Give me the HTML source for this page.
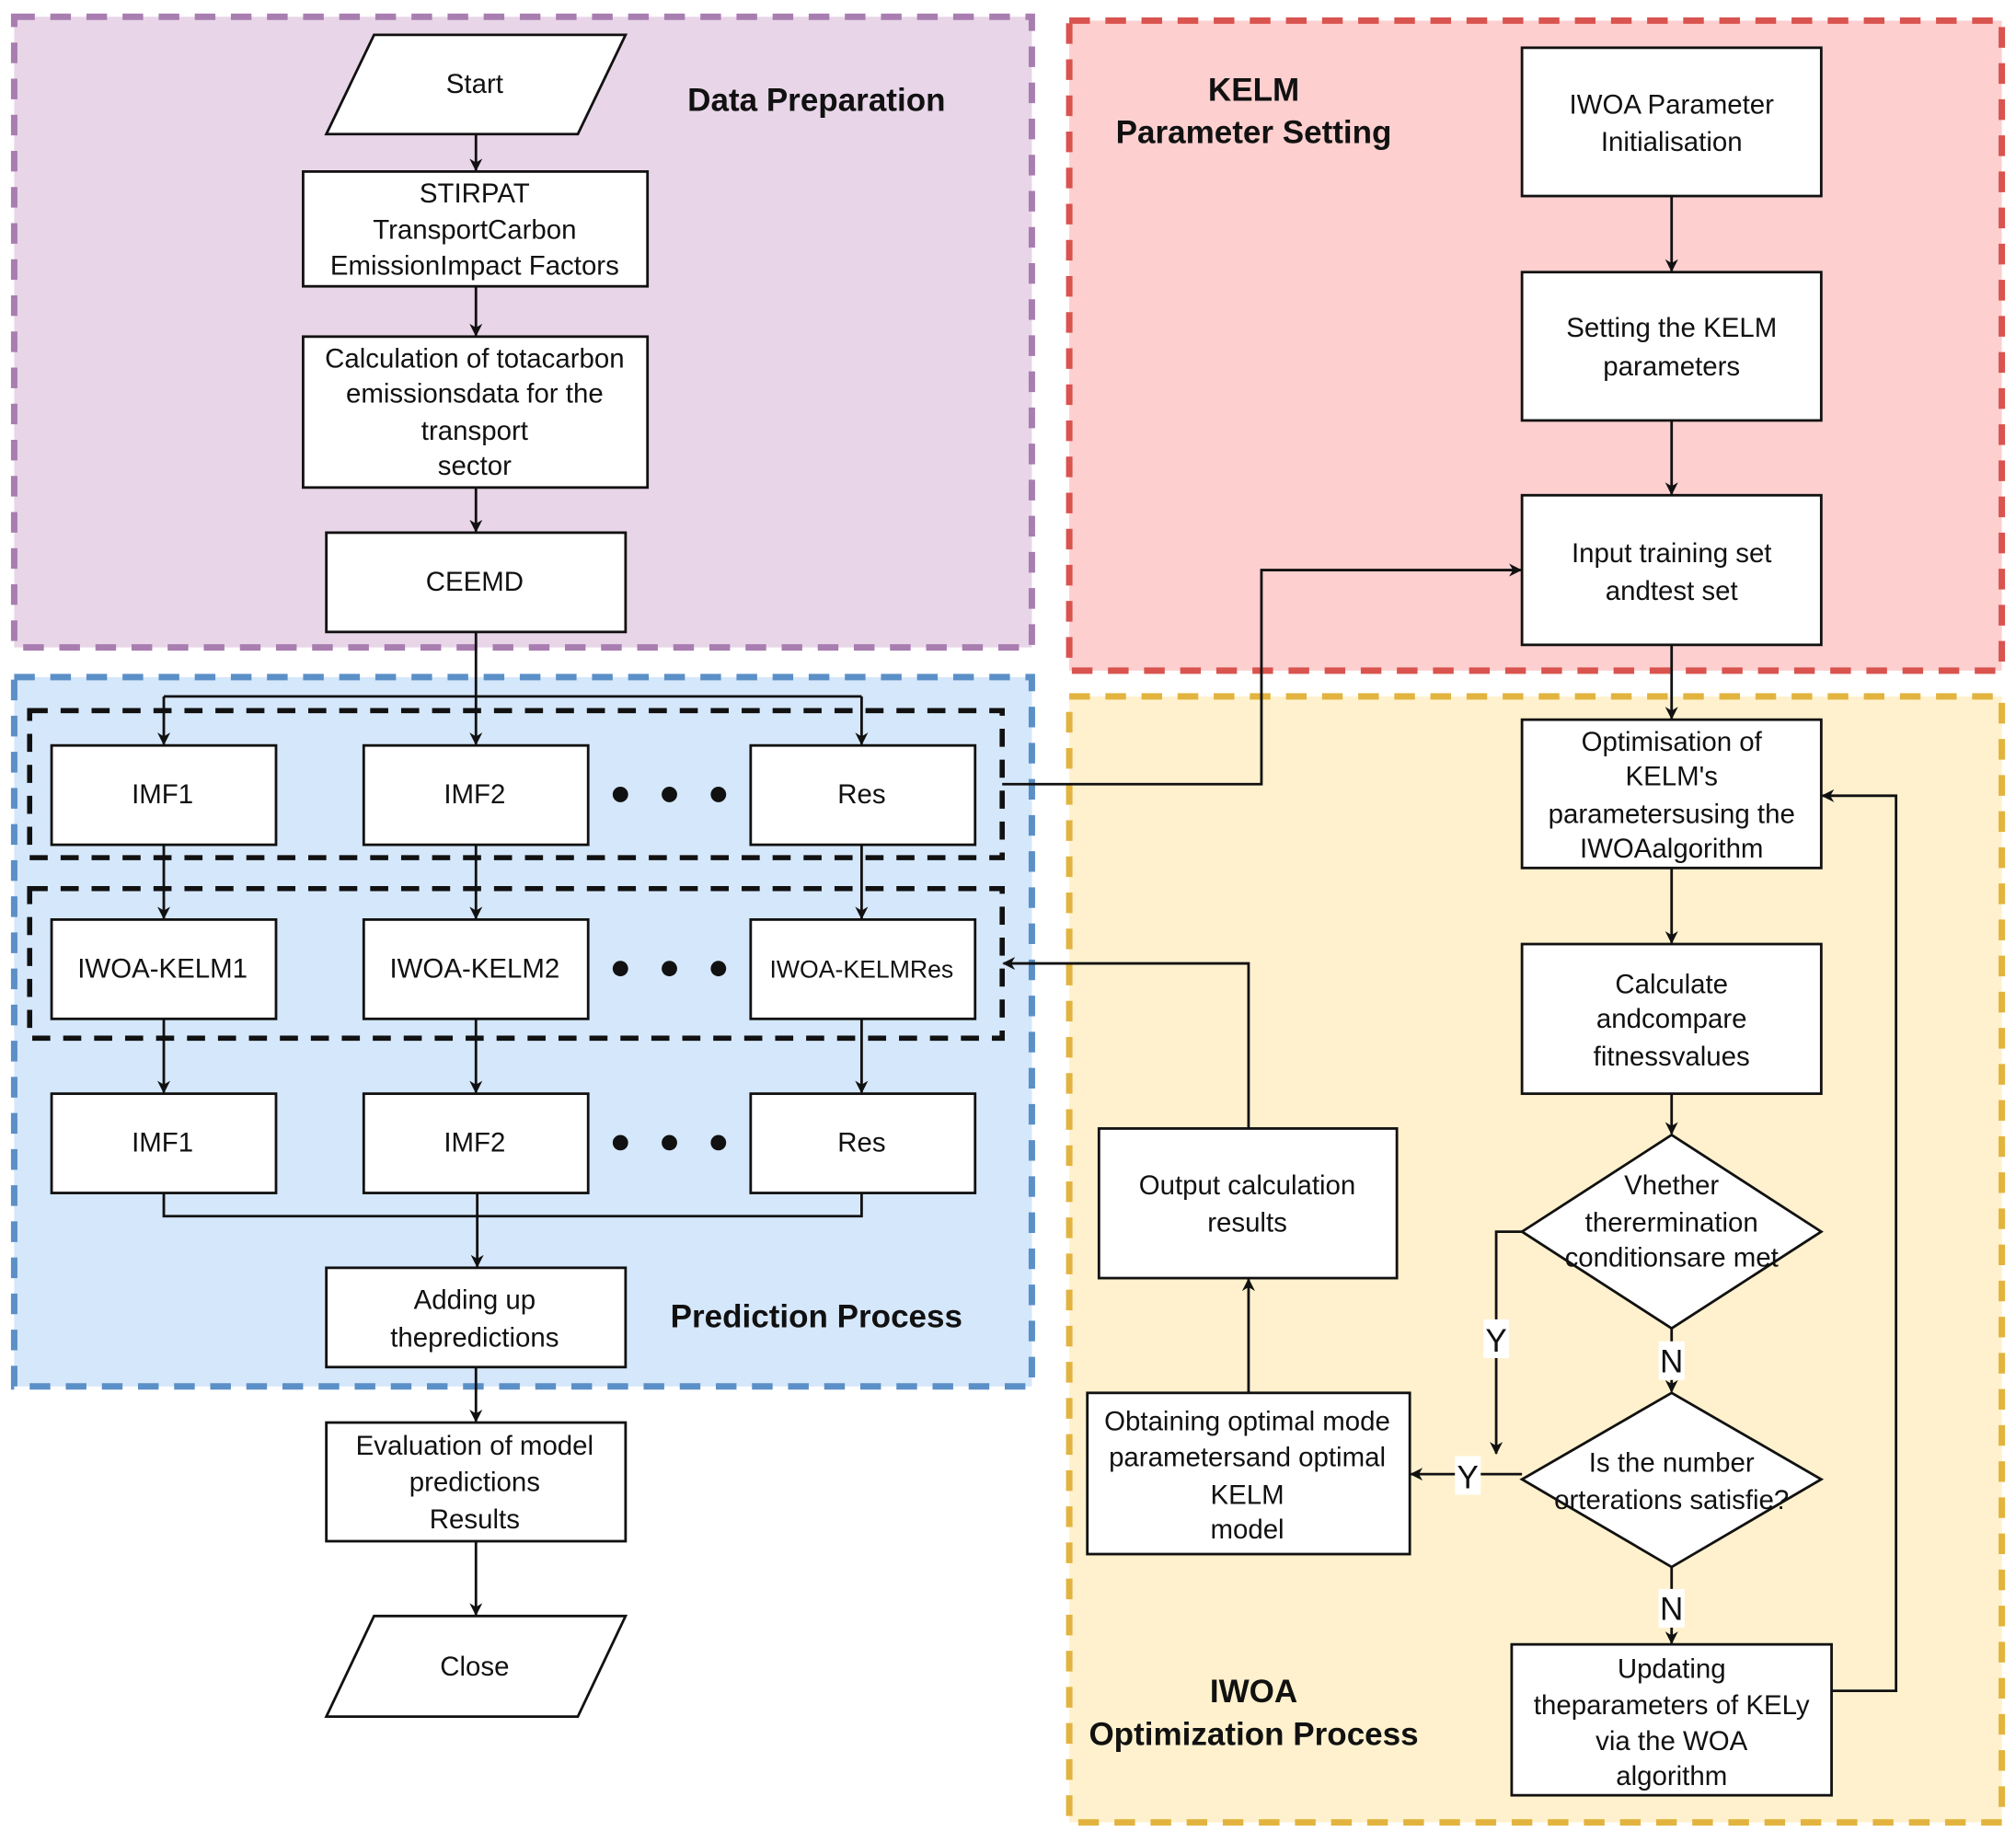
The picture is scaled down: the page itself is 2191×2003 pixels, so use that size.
<!DOCTYPE html>
<html><head><meta charset="utf-8"><style>
html,body{margin:0;padding:0;background:#fff;width:2191px;height:2003px;overflow:hidden}
svg{display:block}
text{font-family:"Liberation Sans",Arial,sans-serif;fill:#111}
.t{font-size:21px;text-anchor:middle}
.h{font-size:25px;font-weight:bold;text-anchor:middle}
.b{fill:#fff;stroke:#111;stroke-width:2}
.l{fill:none;stroke:#111;stroke-width:2}
</style></head><body>
<svg width="2191" height="2003" viewBox="0 0 1563 1429" preserveAspectRatio="none" xmlns="http://www.w3.org/2000/svg">
<defs><marker id="a" markerWidth="10" markerHeight="10" refX="9" refY="5" orient="auto" markerUnits="userSpaceOnUse"><path d="M0,0 L10,5 L0,10 L3,5 z" fill="#111"/></marker></defs>
<!-- regions -->
<rect x="11" y="13" width="789" height="489" fill="#e8d6e8" stroke="#a87db0" stroke-width="5" stroke-dasharray="16,12"/>
<rect x="829" y="16" width="723" height="504" fill="#fdcfcf" stroke="#d9534f" stroke-width="5" stroke-dasharray="16,12"/>
<rect x="11" y="525" width="789" height="550" fill="#d5e7fa" stroke="#5b8fc7" stroke-width="5" stroke-dasharray="16,12"/>
<rect x="829" y="540" width="723" height="873" fill="#fff1cd" stroke="#e2b43f" stroke-width="5" stroke-dasharray="16,12"/>
<rect x="23" y="551" width="754" height="114" fill="none" stroke="#111" stroke-width="4" stroke-dasharray="14,10"/>
<rect x="23" y="689" width="754" height="116" fill="none" stroke="#111" stroke-width="4" stroke-dasharray="14,10"/>
<text class="h" x="633" y="86">Data Preparation</text>
<text class="h" x="972" y="78">KELM</text>
<text class="h" x="972" y="111">Parameter Setting</text>
<text class="h" x="633" y="1029">Prediction Process</text>
<text class="h" x="972" y="1320">IWOA</text>
<text class="h" x="972" y="1353">Optimization Process</text>
<!-- connectors left -->
<path class="l" d="M369,104 V132" marker-end="url(#a)"/>
<path class="l" d="M369,222 V260" marker-end="url(#a)"/>
<path class="l" d="M369,378 V412" marker-end="url(#a)"/>
<path class="l" d="M369,490 V577" marker-end="url(#a)"/>
<path class="l" d="M127,540 H668"/>
<path class="l" d="M127,540 V577" marker-end="url(#a)"/>
<path class="l" d="M668,540 V577" marker-end="url(#a)"/>
<path class="l" d="M127,655 V712" marker-end="url(#a)"/>
<path class="l" d="M369,655 V712" marker-end="url(#a)"/>
<path class="l" d="M668,655 V712" marker-end="url(#a)"/>
<path class="l" d="M127,790 V847" marker-end="url(#a)"/>
<path class="l" d="M369,790 V847" marker-end="url(#a)"/>
<path class="l" d="M668,790 V847" marker-end="url(#a)"/>
<path class="l" d="M127,925 V943 H668 V925"/>
<path class="l" d="M370,925 V982" marker-end="url(#a)"/>
<path class="l" d="M369,1060 V1102" marker-end="url(#a)"/>
<path class="l" d="M369,1195 V1252" marker-end="url(#a)"/>
<path class="l" d="M777,608 H978 V442 H1179" marker-end="url(#a)"/>
<!-- connectors right -->
<path class="l" d="M1296,152 V210" marker-end="url(#a)"/>
<path class="l" d="M1296,326 V383" marker-end="url(#a)"/>
<path class="l" d="M1296,500 V557" marker-end="url(#a)"/>
<path class="l" d="M1296,673 V731" marker-end="url(#a)"/>
<path class="l" d="M1296,848 V879" marker-end="url(#a)"/>
<path class="l" d="M1296,1030 V1079" marker-end="url(#a)"/>
<path class="l" d="M1296,1215 V1274" marker-end="url(#a)"/>
<path class="l" d="M1420,1311 H1470 V617 H1413" marker-end="url(#a)"/>
<path class="l" d="M1180,955 H1160 V1127" marker-end="url(#a)"/>
<path class="l" d="M1180,1143 H1094" marker-end="url(#a)"/>
<path class="l" d="M968,1080 V992" marker-end="url(#a)"/>
<path class="l" d="M968,875 V747 H778" marker-end="url(#a)"/>
<!-- nodes left -->
<polygon class="b" points="253,104 290,27 485,27 448,104"/>
<text class="t" x="368" y="72">Start</text>
<rect class="b" x="235" y="133" width="267" height="89"/>
<text class="t" x="368" y="157">STIRPAT</text><text class="t" x="368" y="185">TransportCarbon</text><text class="t" x="368" y="213">EmissionImpact Factors</text>
<rect class="b" x="235" y="261" width="267" height="117"/>
<text class="t" x="368" y="285">Calculation of totacarbon</text><text class="t" x="368" y="312">emissionsdata for the</text><text class="t" x="368" y="341">transport</text><text class="t" x="368" y="368">sector</text>
<rect class="b" x="253" y="413" width="232" height="77"/>
<text class="t" x="368" y="458">CEEMD</text>
<g>
<rect class="b" x="40" y="578" width="174" height="77"/><text class="t" x="126" y="623">IMF1</text>
<rect class="b" x="282" y="578" width="174" height="77"/><text class="t" x="368" y="623">IMF2</text>
<rect class="b" x="582" y="578" width="174" height="77"/><text class="t" x="668" y="623">Res</text>
<rect class="b" x="40" y="713" width="174" height="77"/><text class="t" x="126" y="758">IWOA-KELM1</text>
<rect class="b" x="282" y="713" width="174" height="77"/><text class="t" x="368" y="758">IWOA-KELM2</text>
<rect class="b" x="582" y="713" width="174" height="77"/><text class="t" x="668" y="758" style="font-size:19px">IWOA-KELMRes</text>
<rect class="b" x="40" y="848" width="174" height="77"/><text class="t" x="126" y="893">IMF1</text>
<rect class="b" x="282" y="848" width="174" height="77"/><text class="t" x="368" y="893">IMF2</text>
<rect class="b" x="582" y="848" width="174" height="77"/><text class="t" x="668" y="893">Res</text>
</g>
<g fill="#111"><circle cx="481" cy="616" r="6"/><circle cx="519" cy="616" r="6"/><circle cx="557" cy="616" r="6"/>
<circle cx="481" cy="751" r="6"/><circle cx="519" cy="751" r="6"/><circle cx="557" cy="751" r="6"/>
<circle cx="481" cy="886" r="6"/><circle cx="519" cy="886" r="6"/><circle cx="557" cy="886" r="6"/></g>
<rect class="b" x="253" y="983" width="232" height="77"/>
<text class="t" x="368" y="1015">Adding up</text><text class="t" x="368" y="1044">thepredictions</text>
<rect class="b" x="253" y="1103" width="232" height="92"/>
<text class="t" x="368" y="1128">Evaluation of model</text><text class="t" x="368" y="1156">predictions</text><text class="t" x="368" y="1185">Results</text>
<polygon class="b" points="253,1331 290,1253 485,1253 448,1331"/>
<text class="t" x="368" y="1299">Close</text>
<!-- nodes right -->
<rect class="b" x="1180" y="37" width="232" height="115"/>
<text class="t" x="1296" y="88">IWOA Parameter</text><text class="t" x="1296" y="117">Initialisation</text>
<rect class="b" x="1180" y="211" width="232" height="115"/>
<text class="t" x="1296" y="261">Setting the KELM</text><text class="t" x="1296" y="291">parameters</text>
<rect class="b" x="1180" y="384" width="232" height="116"/>
<text class="t" x="1296" y="436">Input training set</text><text class="t" x="1296" y="465">andtest set</text>
<rect class="b" x="1180" y="558" width="232" height="115"/>
<text class="t" x="1296" y="582">Optimisation of</text><text class="t" x="1296" y="609">KELM's</text><text class="t" x="1296" y="638">parametersusing the</text><text class="t" x="1296" y="665">IWOAalgorithm</text>
<rect class="b" x="1180" y="732" width="232" height="116"/>
<text class="t" x="1296" y="770">Calculate</text><text class="t" x="1296" y="797">andcompare</text><text class="t" x="1296" y="826">fitnessvalues</text>
<polygon class="b" points="1296,880 1412,955 1296,1030 1180,955"/>
<text class="t" x="1296" y="926">Vhether</text><text class="t" x="1296" y="955">therermination</text><text class="t" x="1296" y="982">conditionsare met</text>
<polygon class="b" points="1296,1080 1412,1147 1296,1215 1180,1147"/>
<text class="t" x="1296" y="1141">Is the number</text><text class="t" x="1296" y="1170">orterations satisfie?</text>
<rect class="b" x="1172" y="1275" width="248" height="117"/>
<text class="t" x="1296" y="1301">Updating</text><text class="t" x="1296" y="1329">theparameters of KELy</text><text class="t" x="1296" y="1357">via the WOA</text><text class="t" x="1296" y="1384">algorithm</text>
<rect class="b" x="852" y="875" width="231" height="116"/>
<text class="t" x="967" y="926">Output calculation</text><text class="t" x="967" y="955">results</text>
<rect class="b" x="843" y="1080" width="250" height="125"/>
<text class="t" x="967" y="1109">Obtaining optimal mode</text><text class="t" x="967" y="1137">parametersand optimal</text><text class="t" x="967" y="1166">KELM</text><text class="t" x="967" y="1193">model</text>
<!-- edge labels -->
<rect x="1150" y="1023" width="20" height="30" fill="#fff"/><text class="t" x="1160" y="1048" style="font-size:25px">Y</text>
<rect x="1286" y="1040" width="20" height="30" fill="#fff"/><text class="t" x="1296" y="1064" style="font-size:25px">N</text>
<rect x="1286" y="1232" width="20" height="30" fill="#fff"/><text class="t" x="1296" y="1256" style="font-size:25px">N</text>
<rect x="1128" y="1129" width="20" height="30" fill="#fff"/><text class="t" x="1138" y="1154" style="font-size:25px">Y</text>
</svg>
</body></html>
